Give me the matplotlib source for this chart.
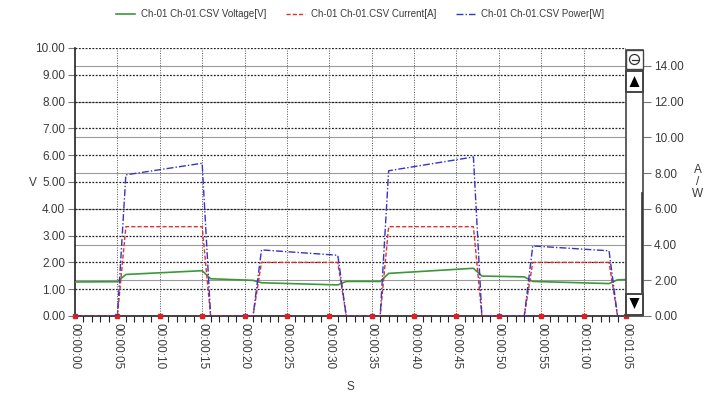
import numpy as np
import matplotlib
matplotlib.use('Agg')
import matplotlib.pyplot as plt
from matplotlib.patches import Rectangle, Polygon, Circle

plt.rcParams['font.family'] = ['Liberation Sans', 'DejaVu Sans']

# data (seconds)
t_sec = [0, 5, 6, 15, 16, 21, 22, 31, 32, 36, 37, 47, 48, 53, 54, 63, 64, 65]
voltage = [1.27, 1.28, 1.55, 1.69, 1.39, 1.33, 1.24, 1.16, 1.29, 1.29,
           1.59, 1.78, 1.49, 1.46, 1.29, 1.21, 1.35, 1.36]
current = [0, 0, 5.0, 5.0, 0, 0, 3.0, 3.0, 0, 0, 5.0, 5.0, 0, 0, 3.0, 3.0, 0, 0]
power = [0, 0, 7.9, 8.55, 0, 0, 3.7, 3.4, 0, 0, 8.13, 8.9, 0, 0, 3.92, 3.65, 0, 0]

x_ticks = list(range(0, 66, 5))
x_labels = ['00:00:00', '00:00:05', '00:00:10', '00:00:15', '00:00:20', '00:00:25',
            '00:00:30', '00:00:35', '00:00:40', '00:00:45', '00:00:50', '00:00:55',
            '00:01:00', '00:01:05']
legend_names = ['Ch-01 Ch-01.CSV Voltage[V]', 'Ch-01 Ch-01.CSV Current[A]',
                'Ch-01 Ch-01.CSV Power[W]']

W, H = 715, 396
fig = plt.figure(figsize=(W / 100, H / 100), dpi=100)

# plot area in pixels
L, R, T, B = 75, 626, 48, 316
ax = fig.add_axes([L / W, 1 - B / H, (R - L) / W, (B - T) / H])
ax2 = ax.twinx()

tc = '#3a3a3a'
fs = 8.5

ax.set_xlim(0, 65)
ax.set_ylim(0, 10)
ax2.set_ylim(0, 15)

# grids
ax.set_yticks(np.arange(0, 11, 1))
ax.set_yticklabels(['%.2f' % v for v in np.arange(0, 11, 1)], fontsize=fs, color=tc)
for v in np.arange(1, 11, 1):
    ax.axhline(v, color='#222222', ls=(0, (1.5, 1.2)), lw=0.9, zorder=1)
for v in np.arange(2, 15, 2):
    ax.axhline(v / 1.5, color='#9a9a9a', ls='-', lw=0.8, zorder=0.9)
for v in x_ticks[1:]:
    ax.axvline(v, color='#555555', ls=(0, (1, 1.5)), lw=0.7, zorder=1)

ax.set_xticks(x_ticks)
ax.set_xticklabels(x_labels, rotation=270, fontsize=fs, color=tc)
ax.set_xticks(np.arange(0, 66, 1), minor=True)
ax.tick_params(axis='x', which='major', length=0, pad=5)
ax.tick_params(axis='x', which='minor', length=4, direction='out', color='#222222', width=0.8)
ax.tick_params(axis='y', length=5, color='#777777', width=0.8, pad=2)
ax.plot(x_ticks, [0] * len(x_ticks), 's', color='#e02020', ms=2.5, clip_on=False, zorder=6)

for s in ['top', 'right']:
    ax.spines[s].set_visible(False)
ax.spines['left'].set_color('#222222')
ax.spines['bottom'].set_color('#222222')
ax.spines['left'].set_linewidth(1.2)
ax.spines['bottom'].set_linewidth(1.2)

# right axis sits at the right edge of the scroll bar
ax2.spines['right'].set_position(('axes', (643 - L) / (R - L)))
for s in ['top', 'left', 'bottom', 'right']:
    ax2.spines[s].set_visible(False)
ax2.set_yticks(np.arange(0, 15, 2))
ax2.set_yticklabels(['%.2f' % v for v in np.arange(0, 15, 2)], fontsize=fs, color=tc)
ax2.tick_params(axis='y', length=6, color='#777777', width=0.8, pad=2)

# series
l1, = ax.plot(t_sec, voltage, color='#3a983a', lw=1.2, zorder=4)
l2, = ax2.plot(t_sec, current, color='#e03030', lw=1.0, ls=(0, (3, 1.5)), zorder=4)
l3, = ax2.plot(t_sec, power, color='#3535c8', lw=1.0, ls=(0, (5, 1.5, 1, 1.5)), zorder=5)

leg = fig.legend([l1, l2, l3], legend_names, loc='center', bbox_to_anchor=(360 / W, 1 - 14 / H),
                 ncol=3, frameon=False, fontsize=7, handlelength=2.0, columnspacing=2.0,
                 handletextpad=0.6)
for txt in leg.get_texts():
    txt.set_color(tc)

fig.text(33 / W, 1 - 183 / H, 'V', fontsize=fs, color=tc, ha='center', va='center')
fig.text(698 / W, 1 - 182 / H, 'A\n/\nW', fontsize=8.5, color=tc, ha='center', va='center',
         linespacing=1.0)
fig.text(350 / W, 1 - 387 / H, 'S', fontsize=fs, color=tc, ha='center', va='center')

# scroll bar drawn in pixel coordinates
sb = fig.add_axes([0, 0, 1, 1], zorder=10)
sb.set_xlim(0, W)
sb.set_ylim(H, 0)
sb.axis('off')
sb.add_patch(Rectangle((626, 50), 17, 266, fc='white', ec='#444444', lw=1.2))
sb.add_patch(Rectangle((626, 50), 17, 19, fc='white', ec='#444444', lw=1.0))
sb.add_patch(Circle((634.5, 59.5), 5, fc='white', ec='#333333', lw=0.9))
sb.plot([631.5, 637.5], [59.5, 59.5], color='#333333', lw=0.9)
sb.add_patch(Rectangle((626, 71), 17, 21, fc='white', ec='#444444', lw=1.4))
sb.add_patch(Polygon([[629.5, 87], [639.5, 87], [634.5, 76]], fc='black'))
sb.add_patch(Rectangle((626, 294), 17, 21, fc='white', ec='#444444', lw=1.4))
sb.add_patch(Polygon([[629.5, 298], [639.5, 298], [634.5, 309]], fc='black'))
sb.plot([642, 642], [193, 292], color='#333333', lw=1.2)

fig.savefig('out.png', dpi=100)
